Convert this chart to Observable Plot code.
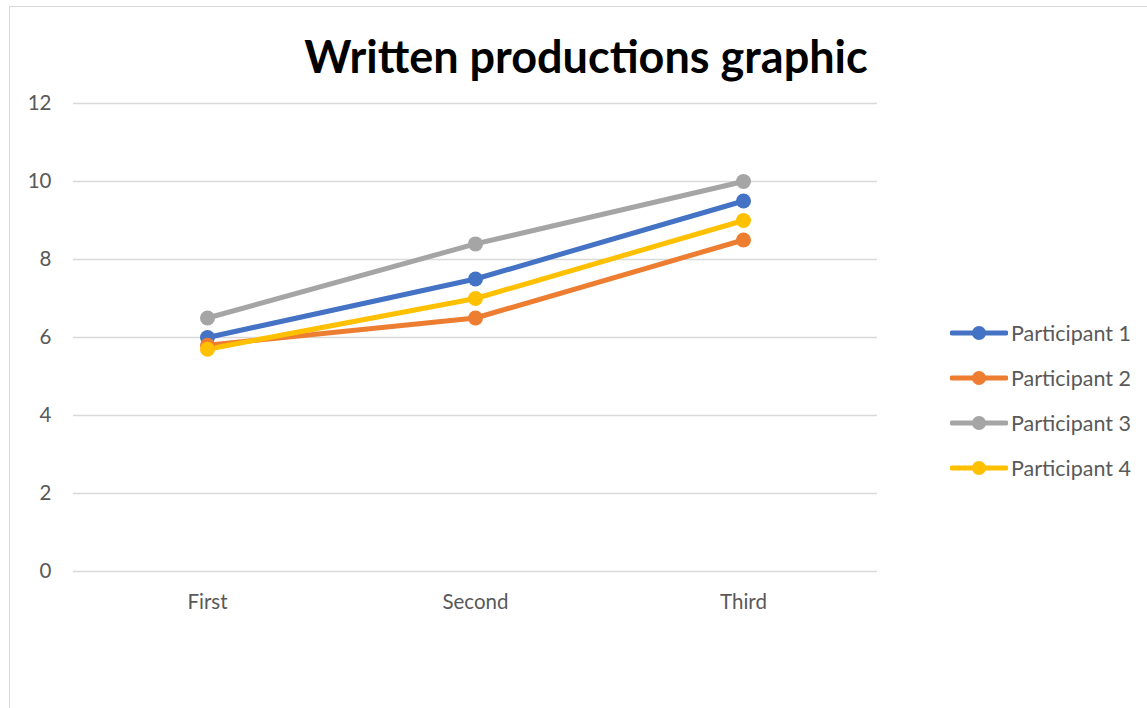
<!DOCTYPE html>
<html>
<head>
<meta charset="utf-8">
<script src="https://cdn.jsdelivr.net/npm/d3@7"></script>
<script src="https://cdn.jsdelivr.net/npm/@observablehq/plot@0.6"></script>
<style>
  html, body { margin: 0; padding: 0; background: #fff; width: 1147px; height: 708px; overflow: hidden; }
  #frame { position: absolute; left: 9px; top: 6px; width: 1300px; height: 900px; border: 1px solid #d9d9d9; box-sizing: border-box; }
  #title { position: absolute; left: 0; width: 1172px; top: 29px; text-align: center; font-family: Lato, sans-serif; font-weight: bold; font-size: 45px; color: #000; }
  #chart { position: absolute; left: 0; top: 0; }
  #legend { position: absolute; left: 950px; top: 310px; font-family: Lato, sans-serif; font-size: 21.5px; color: #595959; }
  .item { display: flex; align-items: center; height: 45px; margin-top: 0; }
  .item svg { display: block; margin-right: 3px; }
</style>
</head>
<body>
<div id="frame"></div>
<div id="title">Written productions graphic</div>
<div id="chart"></div>
<div id="legend"></div>
<script>
const categories = ["First", "Second", "Third"];
const seriesNames = ["Participant 1", "Participant 2", "Participant 3", "Participant 4"];
const participant1 = [6.0, 7.5, 9.5];
const participant2 = [5.8, 6.5, 8.5];
const participant3 = [6.5, 8.4, 10.0];
const participant4 = [5.7, 7.0, 9.0];
const colors = ["#4472C4", "#ED7D31", "#A5A5A5", "#FFC000"];
const yTicks = [0, 2, 4, 6, 8, 10, 12];

const allSeries = [participant1, participant2, participant3, participant4];
const data = [];
allSeries.forEach((vals, i) => vals.forEach((v, j) => data.push({series: seriesNames[i], category: categories[j], value: v})));

const plot = Plot.plot({
  width: 900,
  height: 708,
  marginLeft: 73,
  marginRight: 23,
  marginTop: 103,
  marginBottom: 137,
  style: {fontFamily: "Lato, sans-serif", fontSize: "20.5px", color: "#595959", background: "transparent", overflow: "visible"},
  x: {type: "point", domain: categories, padding: 0.5},
  y: {domain: [0, 12]},
  color: {domain: seriesNames, range: colors},
  marks: [
    Plot.gridY(yTicks, {stroke: "#d9d9d9", strokeOpacity: 1, strokeWidth: 1.3}),
    Plot.axisY(yTicks, {tickSize: 0, tickPadding: 22, label: null, fill: "#595959"}),
    Plot.axisX({tickSize: 0, tickPadding: 23, label: null, fill: "#595959"}),
    Plot.line(data, {x: "category", y: "value", z: "series", stroke: "series", strokeWidth: 5, strokeLinecap: "round", strokeLinejoin: "round"}),
    Plot.dot(data, {x: "category", y: "value", fill: "series", r: 7.5})
  ]
});
document.getElementById("chart").appendChild(plot);

const legend = document.getElementById("legend");
seriesNames.forEach((name, i) => {
  const item = document.createElement("div");
  item.className = "item";
  item.innerHTML = `<svg width="58" height="16"><line x1="2" y1="8" x2="56" y2="8" stroke="${colors[i]}" stroke-width="5" stroke-linecap="round"/><circle cx="29" cy="8" r="7" fill="${colors[i]}"/></svg><span>${name}</span>`;
  legend.appendChild(item);
});
</script>
</body>
</html>
